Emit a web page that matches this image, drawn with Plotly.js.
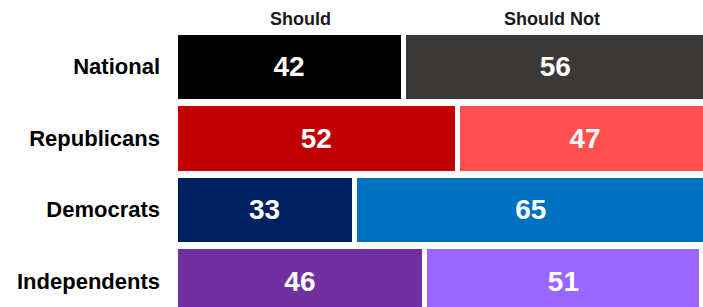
<!DOCTYPE html>
<html>
<head>
<meta charset="utf-8">
<script src="https://cdn.plot.ly/plotly-3.0.1.min.js"></script>
<style>
  html, body { margin: 0; padding: 0; background: #ffffff; }
  #chart { width: 703px; height: 307px; }
</style>
</head>
<body>
<div id="chart"></div>
<script>
// ---- data ----
const categories = ["National", "Republicans", "Democrats", "Independents"];
const shouldValues = [42, 52, 33, 46];
const shouldNotValues = [56, 47, 65, 51];
const seriesNames = ["Should", "Should Not"];

// ---- styles ----
const shouldColors = ["#000000", "#c00000", "#002060", "#7030a0"];
const shouldNotColors = ["#3b3937", "#ff5050", "#0070c0", "#9966ff"];
const FONT = '"Liberation Sans", Arial, Helvetica, sans-serif';

function barTrace(name, values, colors) {
  return {
    type: "bar",
    orientation: "h",
    name: name,
    y: categories,
    x: values,
    text: values.map(String),
    texttemplate: "%{text}",
    textposition: "inside",
    insidetextanchor: "middle",
    constraintext: "none",
    textfont: { family: FONT, size: 28, color: "#ffffff", weight: "bold" },
    marker: { color: colors, line: { color: "#ffffff", width: 5 } },
    hoverinfo: "skip"
  };
}

const data = [
  barTrace(seriesNames[0], shouldValues, shouldColors),
  barTrace(seriesNames[1], shouldNotValues, shouldNotColors)
];

const layout = {
  width: 703,
  height: 307,
  margin: { l: 175, r: 0, t: 31, b: 0, pad: 0 },
  paper_bgcolor: "#ffffff",
  plot_bgcolor: "#ffffff",
  barmode: "stack",
  bargap: 0.028,
  showlegend: false,
  hovermode: false,
  font: { family: FONT, color: "#000000" },
  xaxis: {
    range: [0, 97.2],
    visible: false,
    showgrid: false,
    zeroline: false,
    fixedrange: true
  },
  yaxis: {
    type: "category",
    range: [3.36, -0.5],
    showgrid: false,
    zeroline: false,
    showline: false,
    ticks: "",
    ticklabelstandoff: 14,
    tickfont: { family: FONT, size: 22, color: "#000000", weight: "bold" },
    fixedrange: true
  },
  annotations: [
    { text: seriesNames[0], xref: "paper", yref: "paper", x: 0.237, y: 1.045,
      xanchor: "center", yanchor: "middle", showarrow: false,
      font: { family: FONT, size: 18, color: "#1a1a1a", weight: "bold" } },
    { text: seriesNames[1], xref: "paper", yref: "paper", x: 0.714, y: 1.045,
      xanchor: "center", yanchor: "middle", showarrow: false,
      font: { family: FONT, size: 18, color: "#1a1a1a", weight: "bold" } }
  ]
};

Plotly.newPlot("chart", data, layout, { displayModeBar: false, staticPlot: true });
</script>
</body>
</html>
